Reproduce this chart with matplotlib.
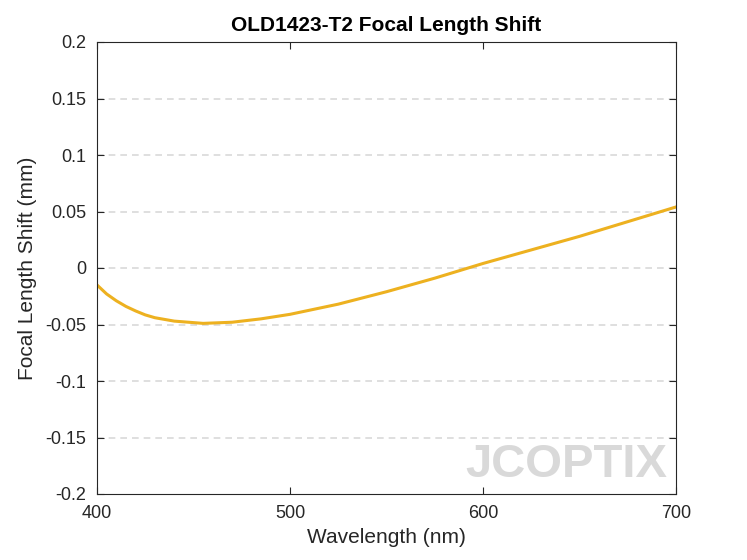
import matplotlib
matplotlib.use("Agg")
import matplotlib.pyplot as plt
import numpy as np

wavelength = [400, 405, 410, 415, 420, 425, 430, 440, 455, 470, 485, 500, 525, 550, 575, 600, 625, 650, 675, 700]
shift = [-0.015, -0.023, -0.029, -0.034, -0.038, -0.0415, -0.044, -0.047, -0.049, -0.048, -0.045, -0.041, -0.032, -0.021, -0.009, 0.004, 0.016, 0.028, 0.041, 0.054]
yticks = [-0.2, -0.15, -0.1, -0.05, 0, 0.05, 0.1, 0.15, 0.2]
yticklabels = ["-0.2", "-0.15", "-0.1", "-0.05", "0", "0.05", "0.1", "0.15", "0.2"]
xticks = [400, 500, 600, 700]

plt.rcParams["font.family"] = "Liberation Sans"
fig = plt.figure(figsize=(7.47, 5.6), dpi=100)
ax = fig.add_axes([97/747, 1-494/560, (676-97)/747, (494-42)/560])
for t in yticks[1:-1]:
    ax.axhline(t, color="#d9d9d9", linestyle=(0, (4, 3)), linewidth=1.2, zorder=0)
ax.plot(wavelength, shift, color="#EDB120", linewidth=2.2)
ax.set_xlim(400, 700)
ax.set_ylim(-0.2, 0.2)
ax.set_xticks(xticks)
ax.set_yticks(yticks)
ax.set_yticklabels(yticklabels)
ax.tick_params(labelsize=13, direction="in", length=5, colors="#262626", pad=8,
               top=True, right=True)
for s in ax.spines.values():
    s.set_color("#262626")
ax.set_xlabel("Wavelength (nm)", fontsize=15, color="#262626", labelpad=4)
ax.set_ylabel("Focal Length Shift (mm)", fontsize=15, color="#262626", labelpad=6)
ax.set_title("OLD1423-T2 Focal Length Shift", fontsize=15, fontweight="bold", pad=8)
ax.text(0.985, 0.015, "JCOPTIX", transform=ax.transAxes, ha="right", va="bottom",
        fontsize=34, fontweight="bold", color="#d0d0d0", alpha=0.8)
fig.savefig("out.png", dpi=100)
